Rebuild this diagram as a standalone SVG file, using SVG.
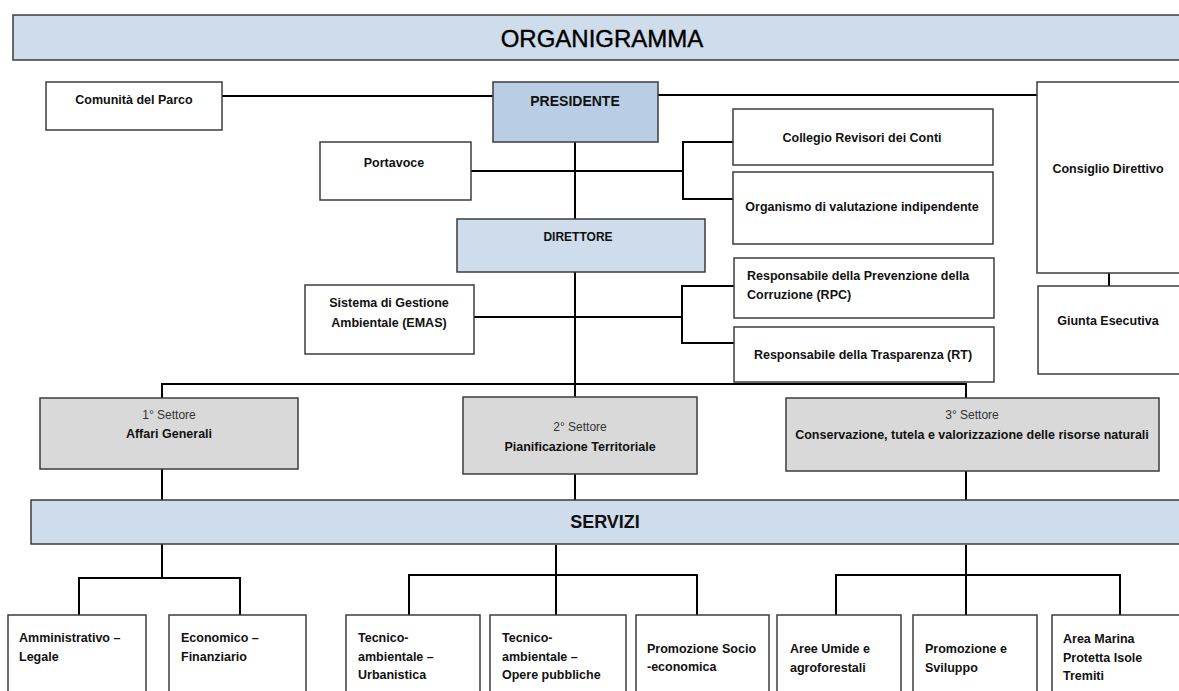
<svg xmlns="http://www.w3.org/2000/svg" width="1179" height="691" viewBox="0 0 1179 691">
<style>
.bg{fill:#ffffff}
.box{fill:#ffffff;stroke:#3c3c3c;stroke-width:1.5}
.blue{fill:#cfdcec;stroke:#3c3c3c;stroke-width:1.5}
.blue2{fill:#b9cde5;stroke:#3c3c3c;stroke-width:1.5}
.grey{fill:#d9d9d9;stroke:#3c3c3c;stroke-width:1.5}
.conn path{fill:none;stroke:#000000;stroke-width:2}
text{font-family:"Liberation Sans",Arial,sans-serif;fill:#111111}
.b{font-weight:bold;font-size:12.5px}
.c{text-anchor:middle}
.r{font-size:12px;font-weight:normal;fill:#333333}
.title{font-size:24px;text-anchor:middle;fill:#000000;stroke:#000000;stroke-width:0.4}
.serv{font-size:18px;font-weight:bold;text-anchor:middle}
</style>
<rect class="bg" x="0" y="0" width="1179" height="691"/>

<g id="connectors" class="conn">
<path d="M222,96 H493"/>
<path d="M658,95 H1037"/>
<path d="M575,142 V219"/>
<path d="M471,171 H683"/>
<path d="M733,142 H683 V199 H733"/>
<path d="M575,272 V397"/>
<path d="M474,317 H682"/>
<path d="M734,286 H682 V343 H734"/>
<path d="M162,398 V384 H966 V398"/>
<path d="M1109,273 V286"/>
<path d="M162,469 V500"/>
<path d="M575,474 V500"/>
<path d="M966,471 V500"/>
<path d="M162,544 V578"/>
<path d="M79,615 V578 H240 V615"/>
<path d="M556,545 V615"/>
<path d="M409,615 V575 H697 V615"/>
<path d="M966,545 V615"/>
<path d="M836,615 V575 H1120 V615"/>
</g>

<g id="title">
<rect class="blue" x="13" y="15" width="1180" height="45"/>
<text class="title" x="602" y="47">ORGANIGRAMMA</text>
</g>

<g id="comunita">
<rect class="box" x="46" y="82" width="176" height="48"/>
<text class="b c" x="134" y="104">Comunità del Parco</text>
</g>

<g id="presidente">
<rect class="blue2" x="493" y="82" width="165" height="60"/>
<text class="b c" x="575" y="106" style="font-size:14px">PRESIDENTE</text>
</g>

<g id="consiglio">
<rect class="box" x="1037" y="82" width="150" height="191"/>
<text class="b c" x="1108" y="173">Consiglio Direttivo</text>
</g>

<g id="giunta">
<rect class="box" x="1038" y="286" width="150" height="88"/>
<text class="b c" x="1108" y="325">Giunta Esecutiva</text>
</g>

<g id="portavoce">
<rect class="box" x="320" y="142" width="151" height="58"/>
<text class="b c" x="394" y="167">Portavoce</text>
</g>

<g id="collegio">
<rect class="box" x="733" y="109" width="260" height="56"/>
<text class="b c" x="862" y="142">Collegio Revisori dei Conti</text>
</g>

<g id="organismo">
<rect class="box" x="733" y="172" width="260" height="72"/>
<text class="b c" x="862" y="211">Organismo di valutazione indipendente</text>
</g>

<g id="direttore">
<rect class="blue" x="457" y="219" width="248" height="53"/>
<text class="b c" x="578" y="241" style="font-size:12px">DIRETTORE</text>
</g>

<g id="emas">
<rect class="box" x="305" y="285" width="169" height="69"/>
<text class="b c" x="389" y="307">Sistema di Gestione</text>
<text class="b c" x="389" y="327">Ambientale (EMAS)</text>
</g>

<g id="rpc">
<rect class="box" x="734" y="258" width="260" height="60"/>
<text class="b" x="747" y="280">Responsabile della Prevenzione della</text>
<text class="b" x="747" y="299">Corruzione (RPC)</text>
</g>

<g id="rt">
<rect class="box" x="734" y="327" width="260" height="55"/>
<text class="b c" x="863" y="359">Responsabile della Trasparenza (RT)</text>
</g>

<g id="settore1">
<rect class="grey" x="40" y="398" width="258" height="71"/>
<text class="r c" x="169" y="419">1° Settore</text>
<text class="b c" x="169" y="438">Affari Generali</text>
</g>

<g id="settore2">
<rect class="grey" x="463" y="397" width="234" height="77"/>
<text class="r c" x="580" y="431">2° Settore</text>
<text class="b c" x="580" y="451">Pianificazione Territoriale</text>
</g>

<g id="settore3">
<rect class="grey" x="786" y="398" width="373" height="73"/>
<text class="r c" x="972" y="419">3° Settore</text>
<text class="b c" x="972" y="439">Conservazione, tutela e valorizzazione delle risorse naturali</text>
</g>

<g id="servizi">
<rect class="blue" x="31" y="500" width="1160" height="44"/>
<text class="serv" x="605" y="528">SERVIZI</text>
</g>

<g id="amministrativo">
<rect class="box" x="8" y="615" width="138" height="90"/>
<text class="b" x="19" y="642">Amministrativo –</text>
<text class="b" x="19" y="661">Legale</text>
</g>

<g id="economico">
<rect class="box" x="169" y="615" width="137" height="90"/>
<text class="b" x="181" y="642">Economico –</text>
<text class="b" x="181" y="661">Finanziario</text>
</g>

<g id="urbanistica">
<rect class="box" x="346" y="615" width="134" height="90"/>
<text class="b" x="358" y="642">Tecnico-</text>
<text class="b" x="358" y="661">ambientale –</text>
<text class="b" x="358" y="679">Urbanistica</text>
</g>

<g id="opere">
<rect class="box" x="490" y="615" width="136" height="90"/>
<text class="b" x="502" y="642">Tecnico-</text>
<text class="b" x="502" y="661">ambientale –</text>
<text class="b" x="502" y="679">Opere pubbliche</text>
</g>

<g id="socio">
<rect class="box" x="636" y="615" width="133" height="90"/>
<text class="b" x="647" y="653">Promozione Socio</text>
<text class="b" x="647" y="671">-economica</text>
</g>

<g id="aree">
<rect class="box" x="777" y="615" width="124" height="90"/>
<text class="b" x="790" y="653">Aree Umide e</text>
<text class="b" x="790" y="672">agroforestali</text>
</g>

<g id="sviluppo">
<rect class="box" x="913" y="615" width="124" height="90"/>
<text class="b" x="925" y="653">Promozione e</text>
<text class="b" x="925" y="672">Sviluppo</text>
</g>

<g id="marina">
<rect class="box" x="1052" y="615" width="140" height="90"/>
<text class="b" x="1063" y="643">Area Marina</text>
<text class="b" x="1063" y="662">Protetta Isole</text>
<text class="b" x="1063" y="680">Tremiti</text>
</g>
</svg>
